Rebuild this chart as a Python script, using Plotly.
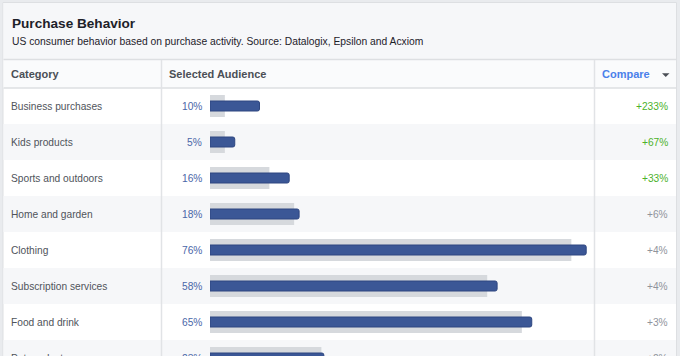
import plotly.graph_objects as go

# ---------------- data ----------------
categories = ["Business purchases", "Kids products", "Sports and outdoors",
              "Home and garden", "Clothing", "Subscription services",
              "Food and drink", "Pet products"]
selected_pct = [10, 5, 16, 18, 76, 58, 65, 23]
baseline_pct = [3, 3, 12, 17, 73, 56, 63, 22.5]
compare_labels = ["+233%", "+67%", "+33%", "+6%", "+4%", "+4%", "+3%", "+2%"]

title = "Purchase Behavior"
subtitle = "US consumer behavior based on purchase activity. Source: Datalogix, Epsilon and Acxiom"
headers = ["Category", "Selected Audience", "Compare"]

# ---------------- layout helpers ----------------
W, H = 680, 384          # figure is taller than the 356px window; the window crops the last row
FONT = "Helvetica, Arial, 'Liberation Sans', sans-serif"
ROW_H = 36
FIRST_ROW_CENTER = 106
BAR_X0 = 210
PX_PER_PCT = 4.95


def px(x):
    return x / W


def py(y):
    return 1 - y / H


n = len(categories)
# y axis (categorical, reversed) so that row i is centred at FIRST_ROW_CENTER + i*ROW_H
y_top = -FIRST_ROW_CENTER / ROW_H
y_bot = (H - FIRST_ROW_CENTER) / ROW_H

fig = go.Figure()

fig.add_trace(go.Bar(
    y=categories, x=baseline_pct, orientation="h", width=22 / ROW_H,
    marker=dict(color="#d6d9dd", line=dict(width=0)), hoverinfo="skip",
    showlegend=False))
fig.add_trace(go.Bar(
    y=categories, x=selected_pct, orientation="h", width=10 / ROW_H,
    marker=dict(color="#3b5796", line=dict(color="#2e4680", width=1)),
    hoverinfo="skip", showlegend=False))

shapes = []
# outer panel
shapes.append(dict(type="rect", xref="paper", yref="paper", x0=px(3), x1=px(676.5),
                   y0=py(H + 5), y1=py(2.5), fillcolor="#ffffff",
                   line=dict(color="#dddfe2", width=1), layer="below"))
# title area
shapes.append(dict(type="rect", xref="paper", yref="paper", x0=px(3.5), x1=px(676),
                   y0=py(59.5), y1=py(3), fillcolor="#f6f7f9", line=dict(width=0), layer="below"))
# header row
shapes.append(dict(type="rect", xref="paper", yref="paper", x0=px(3.5), x1=px(676),
                   y0=py(88), y1=py(60), fillcolor="#fafbfc", line=dict(width=0), layer="below"))
# alternating row backgrounds
for i in range(n):
    if i % 2 == 1:
        shapes.append(dict(type="rect", xref="paper", yref="y", x0=px(3.5), x1=px(676),
                           y0=i - 0.5, y1=i + 0.5, fillcolor="#f6f7f9",
                           line=dict(width=0), layer="below"))
# horizontal rules
for yy in (59.5, 88):
    shapes.append(dict(type="line", xref="paper", yref="paper", x0=px(3.5), x1=px(676),
                       y0=py(yy), y1=py(yy), line=dict(color="#dddfe2", width=1.5), layer="below"))
# vertical rules
for xx in (161.5, 594.5):
    shapes.append(dict(type="line", xref="paper", yref="paper", x0=px(xx), x1=px(xx),
                       y0=py(60), y1=py(H + 5), line=dict(color="#e1e3e6", width=1.5), layer="below"))
# dropdown triangle
shapes.append(dict(type="path", xref="paper", yref="paper",
                   path=f"M {px(662)} {py(73.3)} L {px(669.5)} {py(73.3)} L {px(665.75)} {py(77)} Z",
                   fillcolor="#4b4f56", line=dict(width=0)))

ann = []
ann.append(dict(text=f"<b>{title}</b>", x=px(11), y=py(23.5), xref="paper", yref="paper",
                xanchor="left", yanchor="middle", showarrow=False, borderpad=0,
                font=dict(family=FONT, size=13.6, color="#1d2129")))
ann.append(dict(text=subtitle, x=px(11), y=py(41), xref="paper", yref="paper",
                xanchor="left", yanchor="middle", showarrow=False, borderpad=0,
                font=dict(family=FONT, size=10.3, color="#1d2129")))
header_x = [10, 167.5, 600.5]
header_col = ["#4b4f56", "#4b4f56", "#4a80ea"]
for h, hx, hc in zip(headers, header_x, header_col):
    ann.append(dict(text=f"<b>{h}</b>", x=px(hx), y=py(74), xref="paper", yref="paper",
                    xanchor="left", yanchor="middle", showarrow=False, borderpad=0,
                    font=dict(family=FONT, size=11, color=hc)))

for cat, v, c in zip(categories, selected_pct, compare_labels):
    ann.append(dict(text=cat, x=px(9.5), y=cat, xref="paper", yref="y",
                    xanchor="left", yanchor="middle", showarrow=False, borderpad=0,
                    font=dict(family=FONT, size=10.2, color="#50545b")))
    ann.append(dict(text=f"{v}%", x=px(203), y=cat, xref="paper", yref="y",
                    xanchor="right", yanchor="middle", showarrow=False, borderpad=0,
                    font=dict(family=FONT, size=10.2, color="#4a66a8")))
    strong = float(c.strip("+%")) >= 10
    ann.append(dict(text=c, x=px(669), y=cat, xref="paper", yref="y",
                    xanchor="right", yanchor="middle", showarrow=False, borderpad=0,
                    font=dict(family=FONT, size=10.2,
                              color="#4cb22a" if strong else "#90949c")))

fig.update_layout(
    width=W, height=H,
    margin=dict(l=0, r=0, t=0, b=0),
    paper_bgcolor="#e9ebee",
    plot_bgcolor="rgba(0,0,0,0)",
    barmode="overlay",
    barcornerradius=2,
    xaxis=dict(domain=[px(BAR_X0), 1], range=[0, (W - BAR_X0) / PX_PER_PCT],
               visible=False, fixedrange=True),
    yaxis=dict(domain=[0, 1], range=[y_bot, y_top], type="category",
               categoryorder="array", categoryarray=categories,
               visible=False, fixedrange=True),
    shapes=shapes,
    annotations=ann,
    font=dict(family=FONT),
)

fig.write_html(
    "out.html",
    config={"displayModeBar": False},
    post_script="document.body.style.margin='0';document.body.style.padding='0';"
                "document.body.style.overflow='hidden';"
                "document.documentElement.style.overflow='hidden';",
)
